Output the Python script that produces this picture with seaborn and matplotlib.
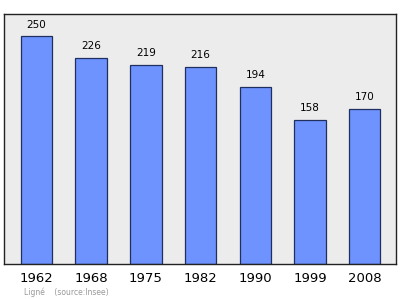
import matplotlib
matplotlib.use("Agg")
import matplotlib.pyplot as plt
import seaborn as sns
import pandas as pd

years = ["1962", "1968", "1975", "1982", "1990", "1999", "2008"]
population = [250, 226, 219, 216, 194, 158, 170]
source_text = "Ligné    (source:Insee)"

sns.set_theme(style="white")
plt.rcParams['font.family'] = ['DejaVu Sans']

df = pd.DataFrame({"year": years, "pop": population})

fig = plt.figure(figsize=(4.0, 2.99), dpi=100)
ax = fig.add_axes([4/400, 35/299, 391.5/400, 250/299])
ax.set_facecolor("#ececec")

sns.barplot(data=df, x="year", y="pop", ax=ax, color="#6e93ff", saturation=1,
            width=0.576, edgecolor="#1f2f5f", linewidth=0.9)

for i, v in enumerate(population):
    ax.annotate(str(v), (i, v), xytext=(0, 5), textcoords="offset points",
                ha="center", va="bottom", fontsize=7.5, color="black")

ax.set_xlim(-0.594, 6.563)
ax.set_ylim(0, 274.7)
ax.set_yticks([])
ax.set_xlabel("")
ax.set_ylabel("")
ax.tick_params(axis="x", length=0, labelsize=9.5, pad=6, colors="black")
for s in ax.spines.values():
    s.set_color("#222222")
    s.set_linewidth(1.0)

fig.text(24/400, 1 - 292.7/299, source_text, fontsize=5.5, color="#999999",
         ha="left", va="center")

fig.savefig("out.png", dpi=100)
